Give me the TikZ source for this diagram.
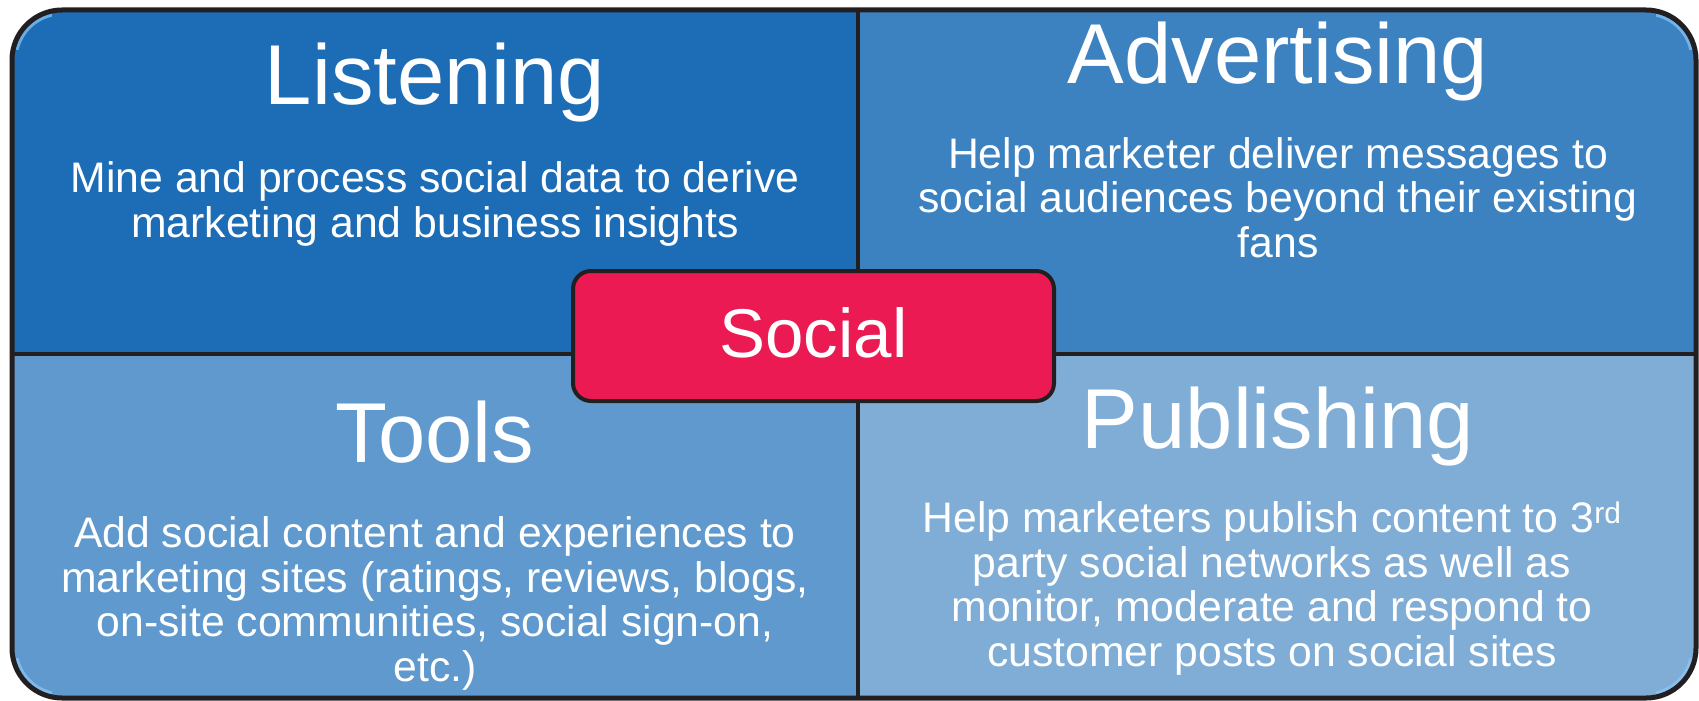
\documentclass[tikz,border=0pt]{standalone}
\usepackage{fontspec}
\setmainfont{Liberation Sans}
\definecolor{qTL}{HTML}{1C6CB6}
\definecolor{qTR}{HTML}{3C82C1}
\definecolor{qBL}{HTML}{5F99CD}
\definecolor{qBR}{HTML}{80ADD6}
\definecolor{socialred}{HTML}{EC1A52}
\definecolor{edgedark}{HTML}{231F20}
\definecolor{glint}{HTML}{8CC8F8}
\begin{document}
\begin{tikzpicture}[x=1pt,y=-1pt,
  title/.style={text=white, font=\fontsize{85}{90}\selectfont, anchor=base, inner sep=0},
  body/.style={text=white, font=\fontsize{42.7}{44.5}\selectfont, anchor=base, align=center, inner sep=0},
  divider/.style={draw=edgedark, line width=4},
  socialbox/.style={draw=edgedark, fill=socialred, line width=4, rounded corners=18,
    minimum width=481, minimum height=130, inner sep=0, text=white,
    font=\fontsize{69}{72}\selectfont, text height=50, text depth=8}
]
\useasboundingbox (0,0) rectangle (1699,701);
\fill[white] (0,0) rectangle (1699,701);
\begin{scope}
  \clip[rounded corners=50] (12,10) rectangle (1696,698);
  \fill[qTL] (0,0) rectangle (858,354);
  \fill[qTR] (858,0) rectangle (1699,354);
  \fill[qBL] (0,354) rectangle (858,701);
  \fill[qBR] (858,354) rectangle (1699,701);
\end{scope}
% soft highlights inside the rounded corners
\begin{scope}
  \clip (12,10) rectangle (52,50) (12,698) rectangle (52,658) (1696,698) rectangle (1656,658) (1696,10) rectangle (1656,50);
  \draw[glint, line width=3, opacity=0.7, rounded corners=46] (16,14) rectangle (1692,694);
\end{scope}
\coordinate (vtop) at (858,10);
\coordinate (vbot) at (858,698);
\coordinate (hleft) at (12,354);
\coordinate (hright) at (1696,354);
\draw[divider] (vtop) -- (vbot);
\draw[divider] (hleft) -- (hright);
\draw[edgedark, line width=5, rounded corners=50] (12,10) rectangle (1696,698);

\node[title] (listening) at (435,104) {Listening};
\node[title] (advertising) at (1278,83) {Advertising};
\node[title] (tools) at (435,462) {Tools};
\node[title] (publishing) at (1278,448) {Publishing};

\node[body] (listenbody) at (435,237) {Mine and process social data to derive\\marketing and business insights};
\node[body] (advbody) at (1278,257) {Help marketer deliver messages to\\social audiences beyond their existing\\fans};
\node[body] (toolsbody) at (435,681) {Add social content and experiences to\\marketing sites (ratings, reviews, blogs,\\on-site communities, social sign-on,\\etc.)};
\node[body] (pubbody) at (1272,666) {Help marketers publish content to 3\textsuperscript{rd}\\party social networks as well as\\monitor, moderate and respond to\\customer posts on social sites};

\node[socialbox] (social) at (813.5,336) {Social};
\end{tikzpicture}
\end{document}
